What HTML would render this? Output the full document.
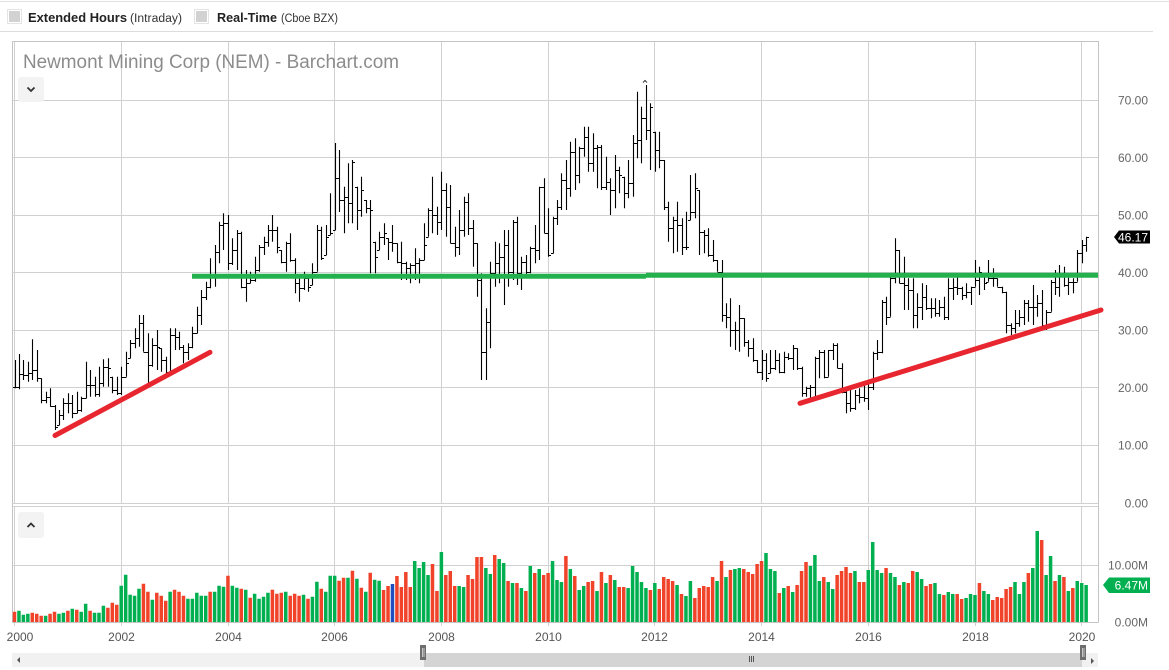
<!DOCTYPE html>
<html><head><meta charset="utf-8"><style>
html,body{margin:0;padding:0;background:#fff;width:1169px;height:670px;overflow:hidden}
svg{display:block;font-family:"Liberation Sans",sans-serif}
</style></head><body>
<svg id="s" width="1169" height="670" viewBox="0 0 1169 670" xmlns="http://www.w3.org/2000/svg">
<rect x="0" y="0" width="1169" height="670" fill="#fff"/>
<!-- toolbar -->
<line x1="0" y1="1.5" x2="1169" y2="1.5" stroke="#e2e2e2"/>
<line x1="0" y1="31.5" x2="1153" y2="31.5" stroke="#dcdcdc"/>
<rect x="7.5" y="9.5" width="14" height="14" fill="#fff" stroke="#e4e4e4"/>
<rect x="9" y="11" width="11" height="11" fill="#d2d2d2"/>
<text x="28" y="22" font-size="13" font-weight="bold" fill="#222" textLength="99" lengthAdjust="spacingAndGlyphs">Extended Hours</text>
<text x="130" y="22" font-size="11.5" fill="#333" textLength="52" lengthAdjust="spacingAndGlyphs">(Intraday)</text>
<rect x="194.5" y="9.5" width="14" height="14" fill="#fff" stroke="#e4e4e4"/>
<rect x="196" y="11" width="11" height="11" fill="#d2d2d2"/>
<text x="217" y="22" font-size="13" font-weight="bold" fill="#222" textLength="60" lengthAdjust="spacingAndGlyphs">Real-Time</text>
<text x="281" y="22" font-size="11.5" fill="#333" textLength="57" lengthAdjust="spacingAndGlyphs">(Cboe BZX)</text>

<!-- grid -->
<g stroke="#d0d0d0" stroke-width="1">
<path d="M14.5,42V503M121.5,42V503M228.5,42V503M334.5,42V503M441.5,42V503M548.5,42V503M654.5,42V503M761.5,42V503M868.5,42V503M975.5,42V503M1081.5,42V503"/>
<path d="M14.5,506V626M121.5,506V626M228.5,506V626M334.5,506V626M441.5,506V626M548.5,506V626M654.5,506V626M761.5,506V626M868.5,506V626M975.5,506V626M1081.5,506V626"/>
<path d="M13,100.5H1098M13,157.5H1098M13,215.5H1098M13,272.5H1098M13,330.5H1098M13,387.5H1098M13,445.5H1098M13,503.5H1098M13,506.5H1098M13,565.5H1098"/>
</g>
<g stroke="#c4c4c4" stroke-width="1" fill="none">
<path d="M12.5,41.5H1098.5V622.5M12.5,41.5V622.5"/>
<path d="M12,622.5H1098.5"/>
</g>

<!-- title & buttons -->
<text x="23" y="68" font-size="19" fill="#8c8c8c" textLength="376" lengthAdjust="spacingAndGlyphs">Newmont Mining Corp (NEM) - Barchart.com</text>
<rect x="18" y="77" width="26" height="25" rx="3" fill="#f3f3f3"/>
<path d="M27.5,87.5L31,91L34.5,87.5" stroke="#333" stroke-width="1.8" fill="none"/>
<rect x="18" y="512" width="26" height="26" rx="3" fill="#f3f3f3"/>
<path d="M27.5,527L31,523.5L34.5,527" stroke="#333" stroke-width="1.8" fill="none"/>

<g id="vol"></g>
<path id="px" d="" stroke="#000" stroke-width="1.1" fill="none"/>
<path d="M643,82.5L645,80.5L647,82.5" stroke="#333" stroke-width="1" fill="none"/>

<!-- trend lines -->
<g stroke-width="5">
<line x1="192" y1="276.3" x2="646" y2="276.3" stroke="#23b14d"/>
<line x1="646" y1="275.3" x2="1098" y2="275.3" stroke="#23b14d"/>
<line x1="55" y1="435.5" x2="210" y2="352.3" stroke="#e8262f" stroke-linecap="round"/>
<line x1="800" y1="403.3" x2="1101" y2="310" stroke="#e8262f" stroke-linecap="round"/>
</g>

<!-- right axis labels -->
<g font-size="12" fill="#666" text-anchor="end">
<text x="1148" y="104.5">70.00</text>
<text x="1148" y="162">60.00</text>
<text x="1148" y="219.5">50.00</text>
<text x="1148" y="277">40.00</text>
<text x="1148" y="334.5">30.00</text>
<text x="1148" y="392">20.00</text>
<text x="1148" y="449.5">10.00</text>
<text x="1148" y="507.5">0.00</text>
<text x="1148" y="569.5">10.00M</text>
<text x="1148" y="626.5">0.00M</text>
</g>
<polygon points="1114,237 1119,230.5 1150,230.5 1150,243.5 1119,243.5" fill="#000"/>
<text x="1148" y="241.5" font-size="12" fill="#fff" text-anchor="end">46.17</text>
<polygon points="1103,585 1109,577.5 1150,577.5 1150,593 1109,593" fill="#00b050"/>
<text x="1148" y="589.5" font-size="12" fill="#fff" text-anchor="end">6.47M</text>

<!-- x labels -->
<g font-size="12" fill="#555" text-anchor="middle">
<text x="20" y="641">2000</text>
<text x="121.5" y="641">2002</text>
<text x="228.5" y="641">2004</text>
<text x="334.5" y="641">2006</text>
<text x="441.5" y="641">2008</text>
<text x="548.5" y="641">2010</text>
<text x="654.5" y="641">2012</text>
<text x="761.5" y="641">2014</text>
<text x="868.5" y="641">2016</text>
<text x="975.5" y="641">2018</text>
<text x="1082" y="641">2020</text>
</g>

<!-- scrollbar -->
<rect x="12" y="653" width="1086" height="14" fill="#f1f1f1"/>
<rect x="424" y="653" width="658" height="14" fill="#d4d4d4"/>
<polygon points="17,660 20,657 20,663" fill="#555"/>
<polygon points="1094,661 1091,658 1091,664" fill="#555"/>
<rect x="420" y="645" width="6" height="15" fill="#6e6e6e"/>
<path d="M422.5,648V657M424,648V657" stroke="#ddd" stroke-width="0.8"/>
<rect x="1080" y="645" width="6" height="15" fill="#6e6e6e"/>
<path d="M1082.5,648V657M1084,648V657" stroke="#ddd" stroke-width="0.8"/>
<path d="M749.5,656V662M751.5,656V662M753.5,656V662" stroke="#555" stroke-width="1"/>
</svg>
<script>
(function(){
var NS="http://www.w3.org/2000/svg";
var A=[[480,565,560],[462,568,523],[480,540,525],[485,545,520],[418,540,510],[450,545,535],[535,610,600],[575,610,590],[565,620,618],[615,690,680],[630,675,645],[595,660,610],
[580,640,610],[585,655,640],[575,640,630],[590,635,595],[485,595,555],[510,590,555],[530,590,583],[500,590,550],[478,560,500],[475,560,505],[530,580,570],[530,585,580],
[500,585,530],[455,530,490],[420,475,430],[385,445,415],[345,440,370],[345,455,455],[400,550,495],[415,500,435],[390,510,440],[445,515,480],[470,520,515],[385,515,405],
[385,450,410],[395,450,440],[435,490,455],[430,480,440],[380,445,400],[320,400,345],[270,375,290],[245,300,260],[175,265,225],[135,260,155],[65,190,75],[40,150,70],
[45,210,190],[115,195,150],[90,210,100],[95,265,260],[210,305,250],[215,250,240],[170,245,210],[135,215,140],[110,165,125],[75,140,90],[45,125,90],[80,160,140],
[150,190,185],[125,215,130],[100,185,180],[175,280,250],[235,305,265],[215,270,235],[230,275,260],[190,255,215],[75,215,90],[80,180,175],[75,165,110],[-20,105,100]];
var B=[[320,460,350],[250,430,370],[240,430,245],[320,450,390],[290,410,330],[360,400,385],[360,580,390],[485,580,530],[455,510,470],[430,495,460],
[475,540,485],[435,515,490],[490,550,545],[485,600,550],[545,600,565],[550,610,555],[505,600,550],[535,610,540],[430,540,495],[385,470,390],[290,460,405],[380,465,425],
[275,450,330],[310,470,380],[315,490,490],[440,530,500],[390,525,450],[350,470,365],[340,465,445],[420,560,490],[490,650,600],[580,900,815],[685,900,725],[545,805,580],
[485,620,550],[490,610,530],[450,675,495],[450,620,575],[420,600,425],[410,615,580],[530,630,545],[525,595,575],[500,580,505],[435,550,510],[320,540,320],[295,460,460],
[385,530,525],[410,520,415],[360,435,380],[280,390,300],[240,390,325],[185,350,215],[175,330,285],[200,310,205],[140,230,170],[140,275,250],[160,275,205],[195,325,200],
[195,330,320],[230,330,305],[295,405,330],[225,385,270],[260,340,285],[290,385,340],[240,355,310],[165,350,190],[35,235,180],[80,250,115],[15,180,150],[70,270,80],
[155,275,210],[155,265,240]];
var C=[[0,150,140],[125,245,205],[170,280,180],[125,275,195],[175,285,260],[155,270,260],[45,180,155],[40,175,85],[90,285,215],[210,280,225],
[205,290,285],[240,305,300],[300,335,335],[300,485,465],[430,505,470],[415,560,510],[485,570,510],[435,575,475],[475,560,545],[540,590,565],[535,605,600],[600,640,635],
[570,660,600],[580,665,655],[570,640,625],[570,630,600],[580,640,635],[575,640,590],[580,600,595],[555,630,565],[565,630,625],[620,710,700],[680,710,685],[675,715,680],
[590,710,595],[570,655,575],[570,655,650],[570,650,570],[550,600,555],[550,625,625],[610,700,695],[690,760,730],[680,755,745],[690,750,705],[685,730,710],[665,725,715],
[670,750,680],[575,690,580],[540,600,575],[420,580,425],[410,495,470],[350,470,355],[235,370,270],[270,370,370],[290,450,375],[355,450,390],[355,505,465],[400,505,440],
[370,480,410],[375,450,445],[415,475,445],[415,470,460],[420,470,440],[410,480,470],[355,480,385],[355,420,380],[350,405,385],[380,420,405],[370,415,395],[380,435,380],
[300,380,360],[320,405,335],[340,390,370],[300,365,355],[325,380,355],[355,380,380],[380,400,395],[395,520,495],[490,525,505],[450,520,490],[450,500,470],[420,495,430],
[420,485,440],[375,495,440],[405,470,430],[390,500,495],[450,510,455],[360,455,365],[330,405,380],[315,410,345],[320,380,375],[340,405,365],[355,400,365],[270,365,280],
[240,310,255],[230,275,232]];
var bars=[];
function cv(arr,y0,off){for(var k=0;k<arr.length;k++){var b=arr[k];bars[off+k]=[y0+b[0]/3,y0+b[1]/3,y0+b[2]/3];}}
cv(A,200,0);
bars[72]=[143,230,178];bars[73]=[150,212,200];
cv(B,80,74);
cv(C,160,146);
function X(i){return Math.round(14.5+4.4467*i)+0.5;}
var d="";
for(var i=0;i<bars.length;i++){
  var b=bars[i];if(!b)continue;
  var x=X(i);
  var o=i>0&&bars[i-1]?bars[i-1][2]:b[2];
  if(o<b[0])o=b[0];if(o>b[1])o=b[1];
  d+="M"+x+","+b[0].toFixed(1)+"V"+b[1].toFixed(1);
  d+="M"+(x-2.5)+","+(Math.round(o)+0.5)+"H"+x;
  d+="M"+x+","+(Math.round(b[2])+0.5)+"H"+(x+2.5);
}
document.getElementById("px").setAttribute("d",d);

var V=[10.3,11.3,7.3,8.3,9.3,8.3,6.3,6.3,8.3,10.3,8.3,9.3,
11.3,13.3,12.3,10.3,18.3,11.3,9.3,9.3,16.3,14.3,19.3,17.3,
36.3,47.3,27.3,26.3,33.3,38.3,30.3,22.3,29.3,26.3,21.3,30.3,
32.3,30.3,26.3,23.3,23.3,29.3,26.3,26.3,30.3,30.3,36.3,35.3,
46.3,36.3,34.3,33.3,32.3,24.3,28.3,23.3,25.3,29.3,32.3,28.3,
29.3,30.3,26.3,28.3,26.3,27.3,23.3,25.3,40.3,33.3,30.3,46.3,
46.3,41.3,44.3,44.3,51.3,43.3,34.3,30.3,49.3,42.3,41.3,32,
36,38,46,35,50,35,61,54,60,47,58,31,
70,47,51,36,36,35,47,43,65,65,54,48,
67,63,59,41,39,39,34,31,56,49,53,47,
49,61,42,40,66,53,46,32,36,40,41,31,
50,39,47,42,35,35,34,56,50,40,34,32,
39,33,45,43,41,37,28,26,41,24,34,36,
35,45,41,61,45,52,53,54,53,50,48,58,
61,69,53,51,29,34,36,30,37,51,60,56,
67,41,45,40,33,47,51,55,49,51,40,40,
52,80,52,49,54,49,45,37,40,39,51,50,
43,36,38,39,28,27,30,28,28,23,24,28,
27,39,31,28,22,25,24,33,35,40,28,40,
49,54,91,82,47,66,41,47,45,31,34,41,39,37];
var K="rgggrrrgrrgg"+"rgrggrgggrrr"+"gggggrrgrrrg"+"rrrgggggrggg"+"rggrgrggggrr"+"rgrrrgrggrgg"+
"grrgrgrgrggr"+"rbrrrrggggrr"+"grrrggrrrrgg"+"rggrgrgrgrgr"+"rgggrgrggrrg"+"rgrgrrgggggr"+
"grrrrgrggrrr"+"rrgrgrggrrrr"+"rgggrgrgrrrg"+"ggrggrrrrgrr"+"ggggrggrgrrg"+"grrggrggrrgg"+
"grggrrrrrggg"+"rggrggrgrgrggg";
var col={g:"#00b050",r:"#f0432a",b:"#1f4fbf"};
var paths={g:"",r:"",b:""};
for(var j=0;j<V.length;j++){
  var c=K.charAt(j)||"g";
  var cx=14.5+4.4467*j, h=V[j];
  var lx=(cx-1.75).toFixed(2), ty=(622-h).toFixed(1);
  paths[c]+="M"+lx+","+ty+"h3.5V622h-3.5z";
}
var g=document.getElementById("vol");
for(var key in paths){
  var p=document.createElementNS(NS,"path");
  p.setAttribute("d",paths[key]);p.setAttribute("fill",col[key]);
  g.appendChild(p);
}
})();
</script>
</body></html>
